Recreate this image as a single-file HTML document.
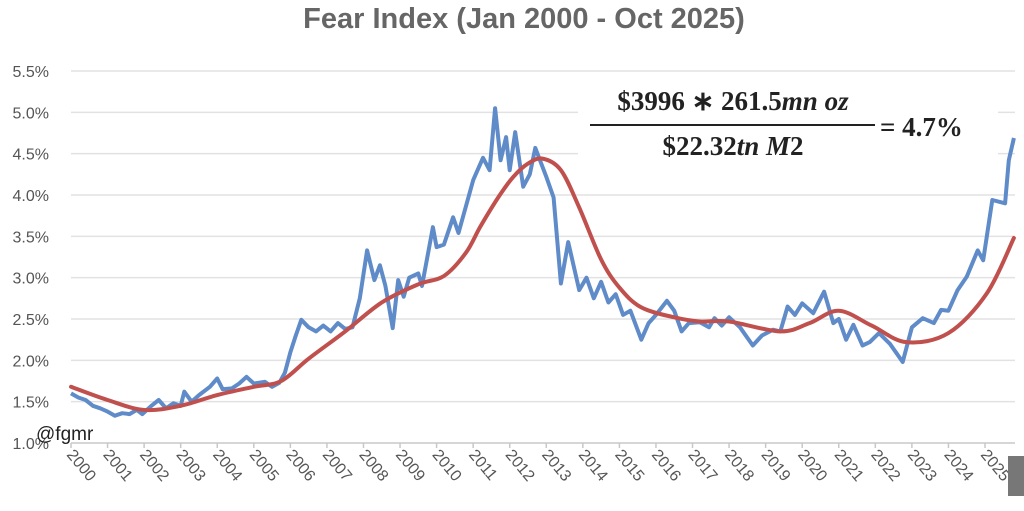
<!DOCTYPE html>
<html><head><meta charset="utf-8"><style>
body{margin:0;background:#fff;width:1024px;height:506px;overflow:hidden;font-family:"Liberation Sans",sans-serif}
.sans{font-family:"Liberation Sans",sans-serif}
.serif{font-family:"Liberation Serif",serif}
</style></head><body>
<svg id="chart" width="1024" height="506" xmlns="http://www.w3.org/2000/svg">
<text class="sans" x="524" y="28" text-anchor="middle" font-size="29" font-weight="bold" fill="#666">Fear Index (Jan 2000 - Oct 2025)</text>
<g id="grid"></g><g id="yaxis"></g><g id="xaxis"></g>
<rect x="578" y="84" width="420" height="78" fill="#fff"/>
<g font-weight="bold" fill="#222">
<text class="serif" x="733" y="110" text-anchor="middle" font-size="27">$3996 ∗ 261.5<tspan font-style="italic">mn oz</tspan></text>
<line x1="590" y1="125" x2="875" y2="125" stroke="#222" stroke-width="2"/>
<text class="serif" x="733" y="155" text-anchor="middle" font-size="27">$22.32<tspan font-style="italic">tn M</tspan>2</text>
<text class="serif" x="880" y="136" font-size="27">= 4.7%</text>
</g>
<g id="series"></g>
<text class="sans" x="36" y="440" font-size="19" fill="#222">@fgmr</text>
<rect x="1008" y="456" width="16" height="40" fill="#777"/>
</svg>
<script>
const yTicks=[1.0,1.5,2.0,2.5,3.0,3.5,4.0,4.5,5.0,5.5];
const years=[2000,2001,2002,2003,2004,2005,2006,2007,2008,2009,2010,2011,2012,2013,2014,2015,2016,2017,2018,2019,2020,2021,2022,2023,2024,2025];
const blueDates=[2000.0,2000.2,2000.4,2000.6,2000.8,2001.0,2001.2,2001.4,2001.6,2001.8,2001.95,2002.2,2002.4,2002.6,2002.8,2003.0,2003.1,2003.3,2003.5,2003.8,2004.0,2004.15,2004.4,2004.6,2004.8,2005.0,2005.3,2005.5,2005.7,2005.85,2006.0,2006.15,2006.3,2006.5,2006.7,2006.9,2007.1,2007.3,2007.5,2007.7,2007.9,2008.1,2008.3,2008.45,2008.6,2008.8,2008.95,2009.1,2009.25,2009.5,2009.6,2009.9,2010.0,2010.2,2010.45,2010.6,2011.0,2011.27,2011.45,2011.6,2011.75,2011.9,2012.0,2012.15,2012.37,2012.55,2012.7,2013.0,2013.2,2013.4,2013.6,2013.9,2014.1,2014.3,2014.5,2014.7,2014.9,2015.1,2015.3,2015.6,2015.8,2016.0,2016.3,2016.5,2016.7,2016.9,2017.2,2017.45,2017.6,2017.8,2018.0,2018.3,2018.65,2018.9,2019.2,2019.4,2019.6,2019.8,2020.0,2020.3,2020.6,2020.85,2021.0,2021.2,2021.4,2021.65,2021.85,2022.1,2022.4,2022.75,2023.0,2023.3,2023.6,2023.8,2024.0,2024.25,2024.5,2024.8,2024.95,2025.2,2025.55,2025.65,2025.79];
const blueValues=[1.60,1.55,1.52,1.45,1.42,1.38,1.33,1.36,1.35,1.40,1.35,1.45,1.52,1.42,1.48,1.45,1.62,1.50,1.58,1.68,1.78,1.65,1.66,1.72,1.80,1.72,1.74,1.68,1.73,1.85,2.10,2.30,2.49,2.40,2.35,2.42,2.35,2.45,2.38,2.40,2.75,3.33,2.97,3.15,2.90,2.39,2.97,2.77,3.00,3.05,2.90,3.61,3.37,3.40,3.73,3.54,4.18,4.45,4.30,5.05,4.42,4.70,4.30,4.76,4.10,4.25,4.57,4.22,3.97,2.93,3.43,2.85,3.0,2.75,2.95,2.70,2.80,2.55,2.60,2.25,2.45,2.55,2.72,2.60,2.35,2.45,2.46,2.40,2.51,2.42,2.52,2.40,2.18,2.30,2.37,2.35,2.65,2.55,2.69,2.57,2.83,2.45,2.50,2.25,2.43,2.18,2.22,2.33,2.20,1.98,2.40,2.51,2.45,2.61,2.60,2.85,3.01,3.33,3.21,3.94,3.90,4.42,4.69];
const redDates=[2000.0,2001.0,2002.0,2003.0,2004.0,2005.0,2005.75,2006.5,2007.5,2008.5,2009.5,2010.2,2010.8,2011.2,2011.7,2012.1,2012.5,2012.9,2013.4,2013.9,2014.5,2015.0,2015.6,2016.5,2017.2,2018.0,2019.4,2020.2,2021.0,2021.9,2022.85,2024.0,2025.05,2025.79];
const redValues=[1.68,1.52,1.40,1.45,1.58,1.68,1.75,2.02,2.35,2.70,2.92,3.02,3.30,3.62,3.98,4.22,4.38,4.44,4.30,3.85,3.22,2.88,2.64,2.52,2.47,2.47,2.35,2.45,2.60,2.42,2.22,2.33,2.81,3.48];
const X0=71,X1=1015,YB=443,YT=71;
const xs=d=>X0+(d-2000)*36.56;
const ys=v=>YB-(v-1)*(YB-YT)/4.5;
const NS='http://www.w3.org/2000/svg';
function mk(t,a,p){const e=document.createElementNS(NS,t);for(const k in a)e.setAttribute(k,a[k]);p.appendChild(e);return e;}
const grid=document.getElementById('grid'),ya=document.getElementById('yaxis'),xa=document.getElementById('xaxis'),se=document.getElementById('series');
yTicks.forEach(v=>{
 const l=mk('line',{x1:X0,x2:X1,y1:ys(v),y2:ys(v),stroke:v===1?'#c8c8c8':'#e2e2e2','stroke-width':1.5},grid);
 
 
 const t=mk('text',{x:49,y:ys(v)+6,'text-anchor':'end','font-size':16,fill:'#555',class:'sans'},ya);
 t.textContent=v.toFixed(1)+'%';
 
 
});
years.forEach(y=>{
 const x=xs(y);
 const tk=mk('line',{x1:x,x2:x,y1:YB,y2:YB+5,stroke:'#c8c8c8','stroke-width':1.5},xa);
 
 
 const t=mk('text',{x:0,y:0,'font-size':16,fill:'#555',class:'sans',transform:`translate(${x-5},${YB+12}) rotate(50)`},xa);
 t.textContent=y;
 
 
});
function poly(ds,vs){return ds.map((d,i)=>(i?'L':'M')+xs(d).toFixed(1)+','+ys(vs[i]).toFixed(1)).join('');}
function smooth(ds,vs){const p=ds.map((d,i)=>[xs(d),ys(vs[i])]);let s='M'+p[0][0]+','+p[0][1];
 for(let i=0;i<p.length-1;i++){const a=p[Math.max(0,i-1)],b=p[i],c=p[i+1],d=p[Math.min(p.length-1,i+2)];
 s+=`C${b[0]+(c[0]-a[0])/6},${b[1]+(c[1]-a[1])/6} ${c[0]-(d[0]-b[0])/6},${c[1]-(d[1]-b[1])/6} ${c[0]},${c[1]}`;}return s;}
const bl=mk('path',{d:poly(blueDates,blueValues),fill:'none',stroke:'#5F8BC9','stroke-width':4,'stroke-linejoin':'round'},se);


const rl=mk('path',{d:smooth(redDates,redValues),fill:'none',stroke:'#C0504D','stroke-width':4,'stroke-linecap':'round'},se);


</script>
</body></html>
